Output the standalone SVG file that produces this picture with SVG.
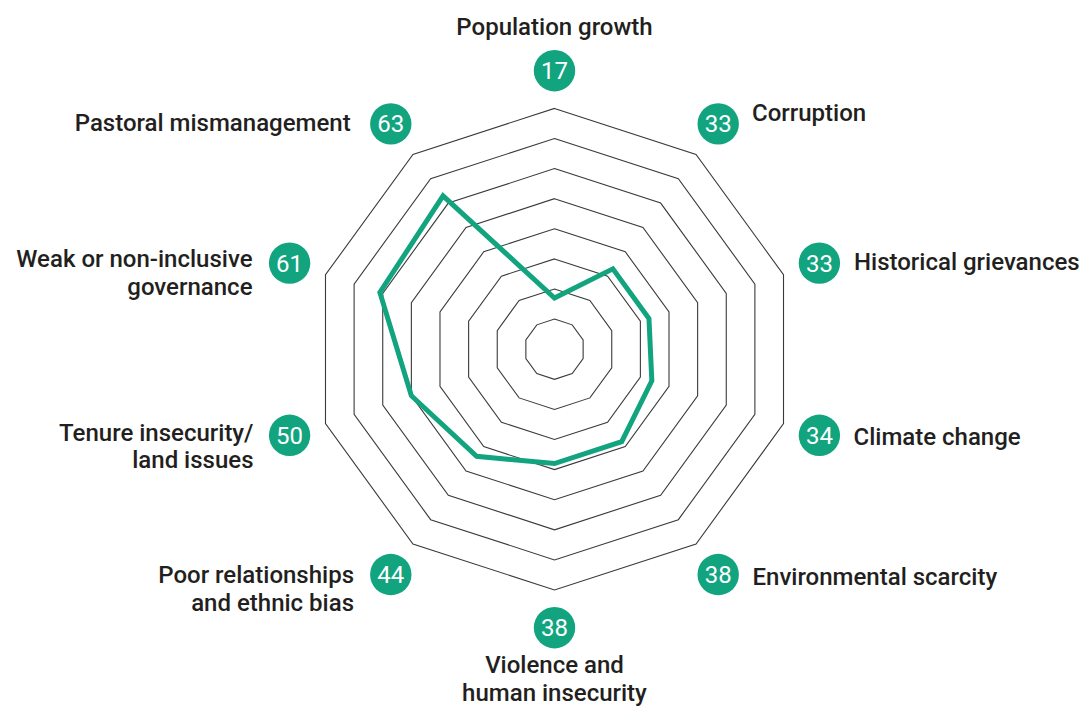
<svg xmlns="http://www.w3.org/2000/svg" width="1083" height="706" viewBox="0 0 1083 706">
<style>
.ring{fill:none;stroke:#3a3a3a;stroke-width:1.1;stroke-linejoin:miter}
.data{fill:none;stroke:#12a37f;stroke-width:5;stroke-linejoin:miter}
.badge{fill:#12a37f}
.num{font-family:Roboto,"Liberation Sans",sans-serif;font-size:24px;fill:#ffffff;text-anchor:middle}
.lbl{font-family:Roboto,"Liberation Sans",sans-serif;font-size:24px;font-weight:500;fill:#231f20}
.end{text-anchor:end}
.mid{text-anchor:middle}
</style>
<rect width="1083" height="706" fill="#ffffff"/>
<g id="grid" transform="translate(554.5 349.2)">
<polygon class="ring" points="0,-30.1 17.69,-24.35 28.63,-9.3 28.63,9.3 17.69,24.35 0,30.1 -17.69,24.35 -28.63,9.3 -28.63,-9.3 -17.69,-24.35"/>
<polygon class="ring" points="0,-60.2 35.38,-48.7 57.25,-18.6 57.25,18.6 35.38,48.7 0,60.2 -35.38,48.7 -57.25,18.6 -57.25,-18.6 -35.38,-48.7"/>
<polygon class="ring" points="0,-90.3 53.08,-73.05 85.88,-27.9 85.88,27.9 53.08,73.05 0,90.3 -53.08,73.05 -85.88,27.9 -85.88,-27.9 -53.08,-73.05"/>
<polygon class="ring" points="0,-120.4 70.77,-97.41 114.51,-37.21 114.51,37.21 70.77,97.41 0,120.4 -70.77,97.41 -114.51,37.21 -114.51,-37.21 -70.77,-97.41"/>
<polygon class="ring" points="0,-150.5 88.46,-121.76 143.13,-46.51 143.13,46.51 88.46,121.76 0,150.5 -88.46,121.76 -143.13,46.51 -143.13,-46.51 -88.46,-121.76"/>
<polygon class="ring" points="0,-180.6 106.15,-146.11 171.76,-55.81 171.76,55.81 106.15,146.11 0,180.6 -106.15,146.11 -171.76,55.81 -171.76,-55.81 -106.15,-146.11"/>
<polygon class="ring" points="0,-210.7 123.85,-170.46 200.39,-65.11 200.39,65.11 123.85,170.46 0,210.7 -123.85,170.46 -200.39,65.11 -200.39,-65.11 -123.85,-170.46"/>
<polygon class="ring" points="0,-240.8 141.54,-194.81 229.01,-74.41 229.01,74.41 141.54,194.81 0,240.8 -141.54,194.81 -229.01,74.41 -229.01,-74.41 -141.54,-194.81"/>
</g>
<g id="connectors" transform="translate(554.5 349.2)">
<polygon class="data" points="0,-51.17 58.38,-80.36 94.47,-30.69 97.33,31.63 67.23,92.53 0,114.38 -77.85,107.15 -143.13,46.51 -174.62,-56.74 -111.46,-153.41"/>
</g>
<g id="node-population-growth">
<circle class="badge" cx="554.5" cy="70.7" r="20.7"/>
<text class="num" x="554.5" y="79.2">17</text>
<text class="lbl mid" x="554.5" y="35">Population growth</text>
</g>
<g id="node-corruption">
<circle class="badge" cx="718.2" cy="123.9" r="20.7"/>
<text class="num" x="718.2" y="132.4">33</text>
<text class="lbl" x="752" y="120.5">Corruption</text>
</g>
<g id="node-historical-grievances">
<circle class="badge" cx="819.4" cy="263.1" r="20.7"/>
<text class="num" x="819.4" y="271.6">33</text>
<text class="lbl" x="854" y="269.5">Historical grievances</text>
</g>
<g id="node-climate-change">
<circle class="badge" cx="819.4" cy="435.3" r="20.7"/>
<text class="num" x="819.4" y="443.8">34</text>
<text class="lbl" x="853.5" y="445">Climate change</text>
</g>
<g id="node-environmental-scarcity">
<circle class="badge" cx="718.2" cy="574.5" r="20.7"/>
<text class="num" x="718.2" y="583">38</text>
<text class="lbl" x="752.5" y="585">Environmental scarcity</text>
</g>
<g id="node-violence">
<circle class="badge" cx="554.5" cy="627.7" r="20.7"/>
<text class="num" x="554.5" y="636.2">38</text>
<text class="lbl mid" x="554.5" y="673">Violence and</text>
<text class="lbl mid" x="554.5" y="701">human insecurity</text>
</g>
<g id="node-poor-relationships">
<circle class="badge" cx="390.8" cy="574.5" r="20.7"/>
<text class="num" x="390.8" y="583">44</text>
<text class="lbl end" x="354" y="582.7">Poor relationships</text>
<text class="lbl end" x="354" y="610.5">and ethnic bias</text>
</g>
<g id="node-tenure">
<circle class="badge" cx="289.6" cy="435.3" r="20.7"/>
<text class="num" x="289.6" y="443.8">50</text>
<text class="lbl end" x="253.5" y="440.7">Tenure insecurity/</text>
<text class="lbl end" x="253.5" y="468.3">land issues</text>
</g>
<g id="node-governance">
<circle class="badge" cx="289.6" cy="263.1" r="20.7"/>
<text class="num" x="289.6" y="271.6">61</text>
<text class="lbl end" x="252.5" y="266.7">Weak or non-inclusive</text>
<text class="lbl end" x="252.5" y="294.5">governance</text>
</g>
<g id="node-pastoral">
<circle class="badge" cx="390.8" cy="123.9" r="20.7"/>
<text class="num" x="390.8" y="132.4">63</text>
<text class="lbl end" x="350.7" y="131.3">Pastoral mismanagement</text>
</g>
</svg>
